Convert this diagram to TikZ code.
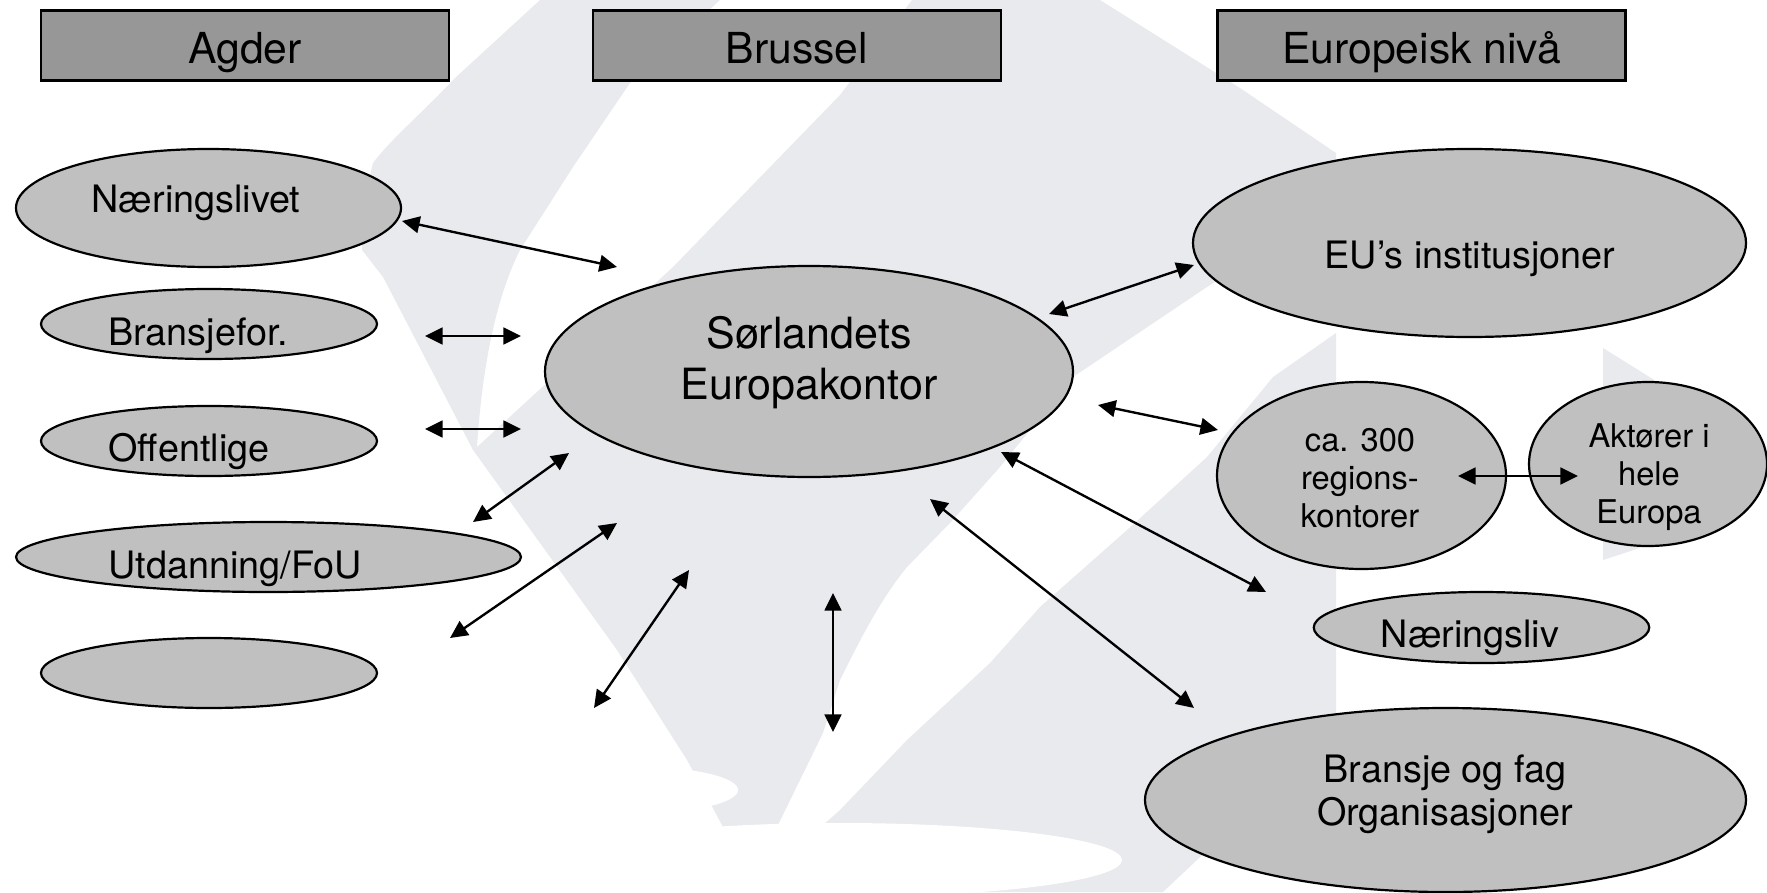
\documentclass[tikz,border=0pt]{standalone}
\usepackage{fontspec}
\setmainfont{TeX Gyre Heros}
\usetikzlibrary{shapes.geometric,arrows.meta}
\definecolor{wmark}{HTML}{E9EAEE}
\definecolor{ovalfill}{HTML}{C0C0C0}
\definecolor{headfill}{HTML}{979797}
\def\pxu{0.02cm}
\tikzset{
  wm/.style={fill=wmark,draw=none},
  wmwhite/.style={fill=white,draw=none},
  headbox/.style={draw=black,fill=headfill,line width=1.3pt,rectangle,inner sep=0pt,minimum width=408*\pxu,minimum height=70*\pxu,font=\fontsize{24.3}{28}\selectfont,text depth=0pt,text height=20.2pt},
  ovalbox/.style 2 args={draw=black,fill=ovalfill,line width=1.25pt,shape=ellipse,inner sep=0pt,minimum width=#1*\pxu,minimum height=#2*\pxu},
  lab/.style={inner sep=0pt,anchor=base,font=\fontsize{21.5}{24.4}\selectfont},
  labc/.style={inner sep=0pt,anchor=center,align=center,font=\fontsize{21.5}{24.4}\selectfont},
  labb/.style={inner sep=0pt,anchor=center,align=center,font=\fontsize{24.5}{29}\selectfont},
  labs/.style={inner sep=0pt,anchor=center,align=center,font=\fontsize{18.6}{21.7}\selectfont},
  link/.style={<->,>={Triangle[length=10pt,width=9.5pt]},line width=1.35pt},
  linkb/.style={link,line width=1.6pt}
}
\begin{document}
\begin{tikzpicture}[x=0.02cm,y=-0.02cm]
\useasboundingbox (0,0) rectangle (1767,892);
\begin{scope}
\clip (0,0) rectangle (1767,892);
% watermark
\path[wm] (540,0) -- (455,78) .. controls (420,115) and (390,140) .. (373,163)
  .. controls (366,190) and (362,220) .. (362,250) -- (383,277) -- (473,450) -- (617,650) -- (687,760) -- (723,827)
  -- (777,827) -- (823,733) -- (840,680) .. controls (860,640) and (880,600) .. (907,567)
  -- (950,523) -- (1000,467) -- (1073,377) -- (1207,287) -- (1336,205)
  -- (1336,153) -- (1240,88) -- (1100,0) -- (912,0) -- (840,95) -- (673,267) -- (477,447)
  .. controls (482,370) and (495,300) .. (520,250) -- (573,167) -- (630,83) -- (720,0) -- cycle;
\path[wm] (1336,333) -- (1273,377) -- (1207,457) -- (1127,530) -- (1040,607) -- (990,663) -- (907,740) -- (840,810) -- (823,825)
  -- (823,892) -- (1163,892) -- (1197,860) -- (1336,720) -- cycle;
\path[wm] (1603,348) -- (1680,396) -- (1680,530) -- (1640,548) -- (1603,560) -- cycle;
\path[wmwhite] (640,790) ellipse [x radius=98,y radius=23];
\path[wmwhite] (840,860) ellipse [x radius=282,y radius=37];
\path[wmwhite] (700,827) rectangle (823,892);
% headers
\node[headbox] (agder) at (245,45.5) {Agder};
\node[headbox] (brussel) at (797,45.5) {Brussel};
\node[headbox] (europa) at (1421.5,45.5) {Europeisk nivå};
% left ovals
\node[ovalbox={385}{118}] (naer) at (208.5,208) {};
\node[ovalbox={336}{70}] (bransje) at (209,324) {};
\node[ovalbox={336}{70}] (offentlig) at (209,441) {};
\node[ovalbox={505}{70}] (utd) at (268.5,557) {};
\node[ovalbox={336}{70}] (blank) at (209,673) {};
\node[lab] (naert) at (196,212.5) {Næringslivet};
\node[lab] (bransjet) at (198,345.5) {Bransjefor.};
\node[lab] (offentligt) at (189,461.5) {Offentlige};
\node[lab] (utdt) at (235,578) {Utdanning/FoU};
% centre
\node[ovalbox={528}{211}] (centre) at (809,371.5) {};
\node[labb] (centret) at (809,362.5) {Sørlandets\\Europakontor};
% right ovals
\node[ovalbox={553}{188}] (eu) at (1469.5,243) {};
\node[ovalbox={289}{187}] (reg) at (1361.5,475.5) {};
\node[ovalbox={238}{164}] (akt) at (1648,464) {};
\node[ovalbox={335.5}{71}] (naerliv) at (1481.5,627.5) {};
\node[ovalbox={601}{184}] (bfag) at (1445.5,800) {};
\node[lab] (eut) at (1470,268) {EU’s institusjoner};
\node[labs] (regt) at (1360,478.5) {ca. 300\\regions-\\kontorer};
\node[labs] (aktt) at (1649,477.5) {Aktører i\\hele\\Europa};
\node[lab] (naerlivt) at (1470,647.5) {Næringsliv};
\node[labc] (bfagt) at (1445,794) {Bransje og fag\\Organisasjoner};
% free ends
\coordinate (a1a) at (402,221);
\coordinate (a1b) at (617,267);
\coordinate (a2a) at (425,336);
\coordinate (a2b) at (521,336);
\coordinate (a3a) at (425,429);
\coordinate (a3b) at (521,429);
\coordinate (a4a) at (569,453);
\coordinate (a4b) at (473,522);
\coordinate (a5a) at (617,523);
\coordinate (a5b) at (450,638);
\coordinate (a6a) at (689,570);
\coordinate (a6b) at (594,708);
\coordinate (a7a) at (833,593);
\coordinate (a7b) at (833,732);
\coordinate (a8a) at (1049,314);
\coordinate (a8b) at (1194,265);
\coordinate (a9a) at (1098,405);
\coordinate (a9b) at (1218,430);
\coordinate (a10a) at (1001,452);
\coordinate (a10b) at (1266,592);
\coordinate (a11a) at (930,499);
\coordinate (a11b) at (1194,708);
\coordinate (a12a) at (1458,476);
\coordinate (a12b) at (1578,476);
\draw[link] (a1a) -- (a1b);
\draw[linkb] (a2a) -- (a2b);
\draw[linkb] (a3a) -- (a3b);
\draw[link] (a4a) -- (a4b);
\draw[link] (a5a) -- (a5b);
\draw[link] (a6a) -- (a6b);
\draw[link] (a7a) -- (a7b);
\draw[link] (a8a) -- (a8b);
\draw[link] (a9a) -- (a9b);
\draw[link] (a10a) -- (a10b);
\draw[link] (a11a) -- (a11b);
\draw[linkb] (a12a) -- (a12b);
\end{scope}
\end{tikzpicture}
\end{document}
